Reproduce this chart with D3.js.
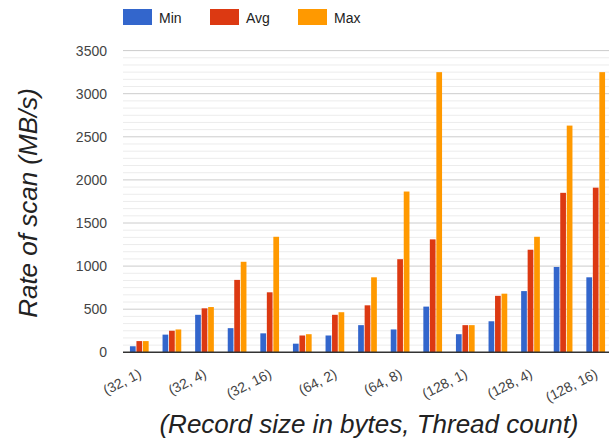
<!DOCTYPE html>
<html>
<head>
<meta charset="utf-8">
<script src="https://cdn.jsdelivr.net/npm/d3@7"></script>
<style>
  html, body { margin: 0; padding: 0; background: #fff; }
  svg { display: block; font-family: "Liberation Sans", Arial, sans-serif; }
</style>
</head>
<body>
<svg id="chart" width="609" height="440"></svg>
<script>
// Scan throughput per (record size, thread count) configuration
const categories = [
  "(32, 1)", "(32, 2)", "(32, 4)", "(32, 8)", "(32, 16)",
  "(64, 1)", "(64, 2)", "(64, 4)", "(64, 8)", "(64, 16)",
  "(128, 1)", "(128, 2)", "(128, 4)", "(128, 8)", "(128, 16)"
];
const seriesNames = ["Min", "Avg", "Max"];
const minValues = [70, 205, 435, 280, 220, 100, 195, 315, 265, 530, 210, 360, 710, 990, 870];
const avgValues = [130, 250, 510, 840, 696, 195, 435, 545, 1080, 1310, 315, 655, 1190, 1850, 1910];
const maxValues = [130, 265, 525, 1050, 1340, 210, 465, 870, 1865, 3250, 315, 680, 1340, 2630, 3250];
const yTicks = [0, 500, 1000, 1500, 2000, 2500, 3000, 3500];
const shownLabels = ["(32, 1)", "(32, 4)", "(32, 16)", "(64, 2)", "(64, 8)", "(128, 1)", "(128, 4)", "(128, 16)"];
const colors = ["#3366cc", "#dc3912", "#ff9900"];

const seriesValues = [minValues, avgValues, maxValues];
const rows = categories.map((c, i) => ({
  category: c,
  values: seriesNames.map((s, k) => ({ series: s, value: seriesValues[k][i] }))
}));

const svg = d3.select("#chart");
const plotLeft = 123, plotRight = 612;

const y = d3.scaleLinear().domain([0, 3500]).range([352.3, 50.6]);
const x = d3.scaleBand().domain(categories).range([plotLeft, plotRight])
  .paddingInner(0.426).paddingOuter(0.213);
const xs = d3.scaleBand().domain(seriesNames).range([0, x.bandwidth()]).paddingInner(0.12);

// minor gridlines: five between each pair of major lines
const minor = [];
for (let i = 0; i < yTicks.length - 1; i++) {
  for (let j = 1; j < 6; j++) minor.push(yTicks[i] + (yTicks[i + 1] - yTicks[i]) * j / 6);
}
svg.append("g").selectAll("line").data(minor).join("line")
  .attr("x1", plotLeft).attr("x2", 609)
  .attr("y1", d => y(d)).attr("y2", d => y(d))
  .attr("stroke", "#ececec").attr("stroke-width", 1);

// major gridlines
svg.append("g").selectAll("line").data(yTicks.filter(t => t > 0)).join("line")
  .attr("x1", plotLeft).attr("x2", 609)
  .attr("y1", d => y(d)).attr("y2", d => y(d))
  .attr("stroke", "#cccccc").attr("stroke-width", 1);

// y axis labels
const yAxis = d3.axisLeft(y).tickValues(yTicks).tickFormat(d3.format("d"))
  .tickSize(0).tickPadding(0);
const gy = svg.append("g").attr("transform", "translate(107,0)").call(yAxis);
gy.select(".domain").remove();
gy.selectAll("text").attr("font-size", 14).attr("fill", "#444")
  .attr("font-family", "'Liberation Sans', Arial, sans-serif");

// bars
const groups = svg.append("g").selectAll("g").data(rows).join("g")
  .attr("transform", d => `translate(${x(d.category)},0)`);
groups.selectAll("rect").data(d => d.values).join("rect")
  .attr("x", d => xs(d.series))
  .attr("width", xs.bandwidth())
  .attr("y", d => y(d.value))
  .attr("height", d => y(0) - y(d.value))
  .attr("fill", (d, i) => colors[i]);

// baseline
svg.append("line")
  .attr("x1", plotLeft).attr("x2", 609)
  .attr("y1", y(0)).attr("y2", y(0))
  .attr("stroke", "#333").attr("stroke-width", 1.5);

// slanted category labels
const xAxis = d3.axisBottom(x).tickValues(shownLabels).tickSize(0).tickPadding(0);
const gx = svg.append("g").call(xAxis);
gx.select(".domain").remove();
gx.selectAll(".tick").attr("transform", d => `translate(${x(d) + x.bandwidth() / 2 + 3},377)`);
gx.selectAll("text")
  .attr("font-size", 14).attr("fill", "#444")
  .attr("font-family", "'Liberation Sans', Arial, sans-serif")
  .attr("text-anchor", "end").attr("dy", 0).attr("y", 0)
  .attr("transform", "rotate(-27)");

// axis titles
svg.append("text")
  .attr("x", 369).attr("y", 433)
  .attr("text-anchor", "middle")
  .attr("font-size", 26).attr("font-style", "italic").attr("fill", "#222")
  .text("(Record size in bytes, Thread count)");

svg.append("text")
  .attr("transform", "translate(37,203) rotate(-90)")
  .attr("text-anchor", "middle")
  .attr("font-size", 26).attr("font-style", "italic").attr("fill", "#222")
  .text("Rate of scan (MB/s)");

// legend
const legendX = [123, 210, 298];
const legend = svg.append("g").selectAll("g").data(seriesNames).join("g")
  .attr("transform", (d, i) => `translate(${legendX[i]},9)`);
legend.append("rect").attr("width", 29).attr("height", 16)
  .attr("fill", (d, i) => colors[i]);
legend.append("text").attr("x", 36).attr("y", 13.5)
  .attr("font-size", 14).attr("fill", "#222").text(d => d);
</script>
</body>
</html>
